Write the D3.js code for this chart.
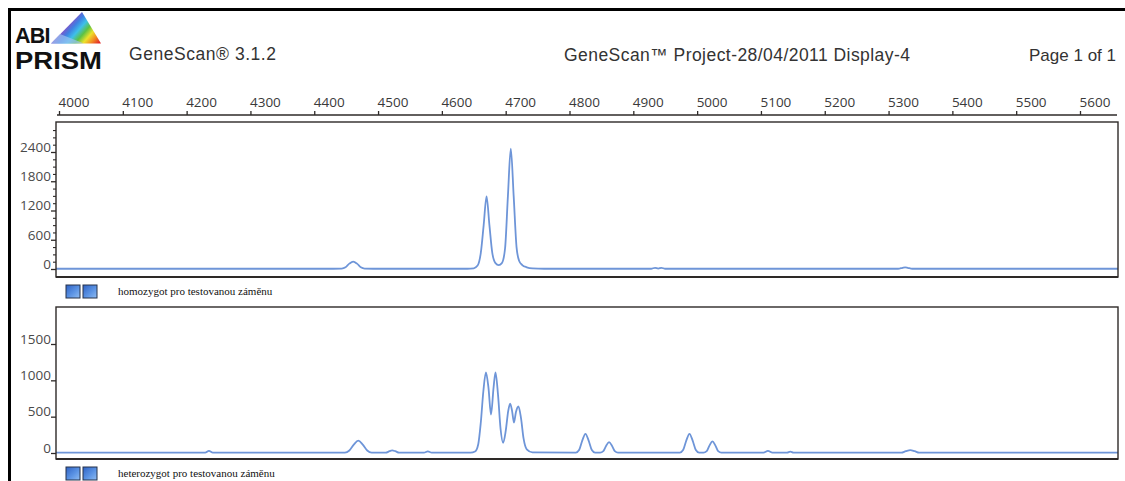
<!DOCTYPE html>
<html>
<head>
<meta charset="utf-8">
<script src="https://cdn.jsdelivr.net/npm/d3@7"></script>
<style>
  html, body { margin: 0; padding: 0; background: #ffffff; }
  svg { display: block; }
</style>
</head>
<body>
<svg id="chart" width="1125" height="481"></svg>
<script>
// Fragment size axis (shared by both traces)
const sizeTicks = [4000, 4100, 4200, 4300, 4400, 4500, 4600, 4700, 4800, 4900, 5000, 5100, 5200, 5300, 5400, 5500, 5600];

// Intensity axes
const homoTicks = [0, 600, 1200, 1800, 2400];
const homoMinorTicks = [150, 300, 450, 750, 900, 1050, 1350, 1500, 1650, 1950, 2100, 2250, 2550, 2700, 2850];
const heteroTicks = [0, 500, 1000, 1500];

// Trace 1 – homozygote: size / signal samples along the electropherogram
const homoSize = [3995, 4430, 4443, 4449, 4455, 4461, 4467, 4473, 4479, 4492,
  4640, 4650, 4656, 4661, 4665.5, 4670, 4674.5, 4679, 4684, 4689,
  4694, 4699, 4703.5, 4708, 4712.5, 4717, 4721, 4726, 4733, 4742, 4760,
  4928, 4934, 4939, 4944, 4950, 5315, 5322, 5326, 5330, 5337, 5660];
const homoRfu = [5, 5, 8, 35, 110, 150, 110, 35, 8, 5,
  5, 15, 70, 330, 900, 1490, 900, 330, 120, 80,
  120, 420, 1500, 2470, 1500, 450, 170, 80, 35, 12, 5,
  5, 25, 8, 25, 5, 5, 25, 35, 25, 5, 5];

// Trace 2 – heterozygote
const heteroSize = [3995, 4229, 4235, 4241, 4448, 4455, 4462, 4469, 4476, 4483, 4490,
  4512, 4518, 4522, 4527, 4533, 4572, 4578, 4584,
  4645, 4652, 4657, 4661, 4665, 4669, 4673, 4677, 4681, 4684, 4688, 4692, 4696,
  4700, 4704, 4707, 4710, 4713, 4716, 4720, 4724, 4728, 4733, 4742,
  4810, 4815, 4820, 4825, 4830, 4835, 4840,
  4848, 4853, 4857.5, 4862, 4866.5, 4871, 4876,
  4973, 4978, 4983, 4988, 4993, 4998, 5003,
  5010, 5015, 5019.5, 5024, 5028.5, 5033, 5038,
  5104, 5111, 5118, 5141, 5146, 5151,
  5320, 5327, 5334, 5341, 5348, 5660];
const heteroRfu = [5, 5, 28, 5, 6, 35, 115, 170, 115, 35, 6,
  5, 25, 35, 25, 5, 5, 22, 5,
  5, 20, 120, 420, 850, 1110, 900, 530, 900, 1110, 800, 330, 140,
  300, 580, 680, 580, 420, 560, 640, 480, 200, 50, 8,
  5, 40, 170, 264, 170, 40, 5,
  5, 25, 100, 150, 100, 25, 5,
  5, 40, 170, 264, 170, 40, 5,
  5, 25, 105, 160, 105, 25, 5,
  5, 28, 5, 5, 18, 5,
  5, 25, 40, 25, 5, 5];

const panelLabels = ["homozygot pro testovanou záměnu", "heterozygot pro testovanou záměnu"];

const svg = d3.select("#chart");
const ink = "#2e2a28";
const traceColor = "#6e95d8";

// Page frame
svg.append("line").attr("x1", 9.5).attr("x2", 9.5).attr("y1", 8).attr("y2", 481)
  .attr("stroke", "#000").attr("stroke-width", 3);
svg.append("line").attr("x1", 8).attr("x2", 1125).attr("y1", 9.5).attr("y2", 9.5)
  .attr("stroke", "#000").attr("stroke-width", 3);

// Logo: prism with spectrum bands
const defs = svg.append("defs");
const spec = defs.append("linearGradient").attr("id", "spectrum")
  .attr("gradientUnits", "userSpaceOnUse")
  .attr("x1", 66).attr("y1", 16).attr("x2", 98).attr("y2", 44);
[["0", "#b03a9c"], ["0.14", "#8c4cc4"], ["0.3", "#3f7fe2"], ["0.44", "#3ec0ea"],
 ["0.58", "#5cc244"], ["0.72", "#ece22a"], ["0.86", "#f28a22"], ["1", "#e22a2a"]]
  .forEach(([o, c]) => spec.append("stop").attr("offset", o).attr("stop-color", c));
svg.append("path").attr("d", "M82,12 L51,43.5 L101,43.5 Z").attr("fill", "url(#spectrum)");
svg.append("path").attr("d", "M51,43.5 L60,34 L84,43.5 Z").attr("fill", "#9cc2f2").attr("opacity", 0.7);

svg.append("text").attr("x", 15).attr("y", 42.5).text("ABI")
  .attr("font-family", "Liberation Sans, Arial, sans-serif").attr("font-weight", "bold")
  .attr("font-size", 21.5).attr("letter-spacing", -0.8).attr("fill", "#111");
svg.append("text").attr("x", 15).attr("y", 69).text("PRISM")
  .attr("font-family", "Liberation Sans, Arial, sans-serif").attr("font-weight", "bold")
  .attr("font-size", 24).attr("textLength", 87).attr("lengthAdjust", "spacingAndGlyphs")
  .attr("fill", "#111");

// Header texts
const headFont = "Liberation Sans, Arial, sans-serif";
svg.append("text").attr("x", 129).attr("y", 60).text("GeneScan® 3.1.2")
  .attr("font-family", headFont).attr("font-size", 17.5).attr("fill", "#333")
  .attr("textLength", 147).attr("lengthAdjust", "spacing");
svg.append("text").attr("x", 564).attr("y", 61).text("GeneScan™ Project-28/04/2011 Display-4")
  .attr("font-family", headFont).attr("font-size", 17.5).attr("fill", "#333")
  .attr("textLength", 346).attr("lengthAdjust", "spacing");
svg.append("text").attr("x", 1116).attr("y", 61).attr("text-anchor", "end").text("Page 1 of 1")
  .attr("font-family", headFont).attr("font-size", 17).attr("fill", "#333");

// Shared x scale (size in data points)
const x = d3.scaleLinear().domain([4000, 5600]).range([59, 1080]);

// Top size axis
const topAxis = svg.append("g").attr("transform", "translate(0,115)")
  .call(d3.axisTop(x).tickValues(sizeTicks).tickSize(4).tickSizeOuter(0).tickFormat(d3.format("d")));
topAxis.select(".domain").attr("d", `M57,0H1117`).attr("stroke", ink).attr("stroke-width", 1.4);
topAxis.selectAll(".tick line").attr("stroke", ink).attr("stroke-width", 1.3);
topAxis.selectAll(".tick text").attr("text-anchor", "start").attr("x", -1).attr("y", -8)
  .attr("font-family", "Open Sans, sans-serif").attr("font-size", 13.5).attr("fill", "#3a3a3a");

const panels = [
  { top: 122, bottom: 277, zero: 269, refVal: 2400, refY: 152, size: homoSize, rfu: homoRfu,
    ticks: homoTicks, minor: homoMinorTicks, label: panelLabels[0] },
  { top: 307, bottom: 459, zero: 453, refVal: 1500, refY: 344, size: heteroSize, rfu: heteroRfu,
    ticks: heteroTicks, minor: [], label: panelLabels[1] }
];

const left = 56, right = 1118;

panels.forEach((p, i) => {
  const pxPerUnit = (p.zero - p.refY) / p.refVal;
  const y = d3.scaleLinear()
    .domain([-(p.bottom - p.zero) / pxPerUnit, (p.zero - p.top) / pxPerUnit])
    .range([p.bottom, p.top]);

  defs.append("clipPath").attr("id", "clip" + i)
    .append("rect").attr("x", left).attr("y", p.top).attr("width", right - left).attr("height", p.bottom - p.top);

  // trace
  const pts = p.size.map((s, k) => ({ s, v: p.rfu[k] }));
  const line = d3.line().x(d => x(d.s)).y(d => y(d.v)).curve(d3.curveMonotoneX);
  svg.append("path").datum(pts).attr("clip-path", `url(#clip${i})`)
    .attr("d", line).attr("fill", "none").attr("stroke", traceColor)
    .attr("stroke-width", 1.8).attr("stroke-linejoin", "round");

  // panel frame
  svg.append("rect").attr("x", left).attr("y", p.top).attr("width", right - left).attr("height", p.bottom - p.top)
    .attr("fill", "none").attr("stroke", ink).attr("stroke-width", 1.4);
  svg.append("line").attr("x1", left).attr("x2", right).attr("y1", p.bottom).attr("y2", p.bottom)
    .attr("stroke", ink).attr("stroke-width", 2);

  // intensity axis
  const ax = svg.append("g").attr("transform", `translate(${left},0)`)
    .call(d3.axisLeft(y).tickValues(p.ticks).tickSize(5).tickSizeOuter(0).tickFormat(d3.format("d")));
  ax.select(".domain").remove();
  ax.selectAll(".tick line").attr("stroke", ink).attr("stroke-width", 1.3);
  ax.selectAll(".tick text").attr("x", -5).attr("dy", "-0.05em")
    .attr("font-family", "Open Sans, sans-serif").attr("font-size", 13.5).attr("fill", "#4a4a4a");
  if (p.minor.length) {
    const mx = svg.append("g").attr("transform", `translate(${left},0)`)
      .call(d3.axisLeft(y).tickValues(p.minor).tickSize(3).tickFormat(""));
    mx.select(".domain").remove();
    mx.selectAll(".tick line").attr("stroke", ink).attr("stroke-width", 1.1);
  }

  // legend swatches and caption
  const ly = p.bottom + 8;
  [66, 83].forEach(sx => {
    const g = defs.append("linearGradient").attr("id", `sw${i}${sx}`).attr("x1", 0).attr("y1", 0).attr("x2", 1).attr("y2", 1);
    g.append("stop").attr("offset", "0").attr("stop-color", "#2f62c4");
    g.append("stop").attr("offset", "0.55").attr("stop-color", "#5b93e4");
    g.append("stop").attr("offset", "1").attr("stop-color", "#8fbcf2");
    svg.append("rect").attr("x", sx).attr("y", ly).attr("width", 14).attr("height", 13)
      .attr("fill", `url(#sw${i}${sx})`).attr("stroke", "#27324a").attr("stroke-width", 1);
  });
  svg.append("text").attr("x", 118).attr("y", ly + 10).text(p.label)
    .attr("font-family", "Liberation Serif, Times New Roman, serif").attr("font-size", 11).attr("fill", "#111");
});
</script>
</body>
</html>
